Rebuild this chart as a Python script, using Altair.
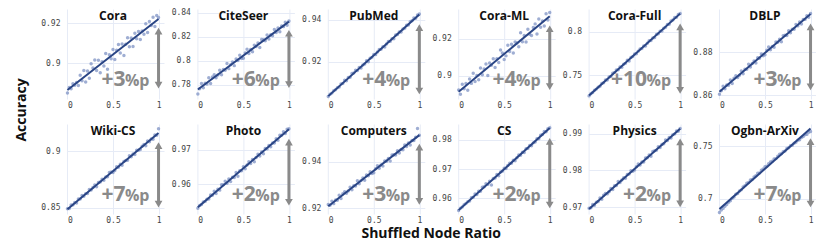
import altair as alt
import pandas as pd
import numpy as np

X = [0.0, 0.02, 0.04, 0.06, 0.08, 0.1, 0.12, 0.14, 0.16, 0.18, 0.2, 0.22, 0.24, 0.26, 0.28,
     0.3, 0.32, 0.34, 0.36, 0.38, 0.4, 0.42, 0.44, 0.46, 0.48, 0.5, 0.52, 0.54, 0.56, 0.58,
     0.6, 0.62, 0.64, 0.66, 0.68, 0.7, 0.72, 0.74, 0.76, 0.78, 0.8, 0.82, 0.84, 0.86, 0.88,
     0.9, 0.92, 0.94, 0.96, 0.98, 1.0]

NAMES = ["Cora", "CiteSeer", "PubMed", "Cora-ML", "Cora-Full", "DBLP",
         "Wiki-CS", "Photo", "Computers", "CS", "Physics", "Ogbn-ArXiv"]
GAINS = ["+3", "+6", "+4", "+4", "+10", "+3", "+7", "+2", "+3", "+2", "+2", "+7"]
DOMAINS = [[0.882, 0.927], [0.7683, 0.8433], [0.9024, 0.9452], [0.8876, 0.936],
           [0.7227, 0.8265], [0.8583, 0.8999], [0.8447, 0.9237], [0.9512, 0.9776],
           [0.9174, 0.9565], [0.9545, 0.9855], [0.9681, 0.9927], [0.6858, 0.7708]]
TICKS = [[0.9, 0.92], [0.78, 0.8, 0.82, 0.84], [0.92, 0.94], [0.9, 0.92],
         [0.75, 0.8], [0.86, 0.88], [0.85, 0.9], [0.96, 0.97],
         [0.92, 0.94], [0.96, 0.97, 0.98], [0.97, 0.98, 0.99], [0.7, 0.75]]
X_TICKS = [0, 0.5, 1]

Y_CORA = [0.8850, 0.8877, 0.8871, 0.8896, 0.8889, 0.8902, 0.8887, 0.8939, 0.8911, 0.8963, 0.8905, 0.8960, 0.8924, 0.8996, 0.8975, 0.9015, 0.8962, 0.9014, 0.8951, 0.9006, 0.8985, 0.9047, 0.8969, 0.9041, 0.9021, 0.9068, 0.9017, 0.9064, 0.9093, 0.9050, 0.9095, 0.9037, 0.9094, 0.9126, 0.9081, 0.9125, 0.9082, 0.9149, 0.9121, 0.9158, 0.9117, 0.9160, 0.9144, 0.9196, 0.9153, 0.9208, 0.9187, 0.9229, 0.9183, 0.9238, 0.9228]
Y_CITESEER = [0.7725, 0.7768, 0.7813, 0.7776, 0.7815, 0.7807, 0.7860, 0.7813, 0.7866, 0.7885, 0.7860, 0.7883, 0.7922, 0.7885, 0.7930, 0.7922, 0.7978, 0.7936, 0.7969, 0.7992, 0.7961, 0.8017, 0.8003, 0.8048, 0.8020, 0.8023, 0.8067, 0.8098, 0.8062, 0.8095, 0.8076, 0.8132, 0.8121, 0.8149, 0.8112, 0.8179, 0.8177, 0.8168, 0.8216, 0.8182, 0.8219, 0.8210, 0.8263, 0.8238, 0.8275, 0.8244, 0.8291, 0.8286, 0.8322, 0.8297, 0.8333]
Y_PUBMED = [0.9036, 0.9047, 0.9052, 0.9063, 0.9068, 0.9077, 0.9081, 0.9096, 0.9098, 0.9113, 0.9111, 0.9126, 0.9127, 0.9145, 0.9148, 0.9161, 0.9160, 0.9174, 0.9171, 0.9186, 0.9190, 0.9206, 0.9201, 0.9218, 0.9222, 0.9236, 0.9235, 0.9248, 0.9260, 0.9260, 0.9273, 0.9271, 0.9286, 0.9298, 0.9298, 0.9311, 0.9311, 0.9328, 0.9331, 0.9343, 0.9343, 0.9357, 0.9361, 0.9375, 0.9376, 0.9392, 0.9396, 0.9409, 0.9408, 0.9423, 0.9428]
Y_CORAML = [0.8925, 0.8901, 0.8955, 0.8931, 0.8960, 0.8923, 0.8984, 0.8960, 0.9014, 0.8970, 0.9002, 0.8979, 0.9043, 0.9006, 0.9038, 0.9064, 0.9002, 0.9070, 0.9057, 0.9093, 0.9045, 0.9092, 0.9072, 0.9139, 0.9123, 0.9089, 0.9108, 0.9165, 0.9131, 0.9170, 0.9123, 0.9183, 0.9177, 0.9157, 0.9232, 0.9184, 0.9217, 0.9183, 0.9251, 0.9224, 0.9218, 0.9261, 0.9280, 0.9225, 0.9306, 0.9262, 0.9295, 0.9268, 0.9335, 0.9301, 0.9341]
Y_CORAFULL = [0.7263, 0.7287, 0.7302, 0.7327, 0.7341, 0.7362, 0.7374, 0.7406, 0.7415, 0.7447, 0.7446, 0.7480, 0.7486, 0.7524, 0.7534, 0.7563, 0.7564, 0.7596, 0.7594, 0.7627, 0.7638, 0.7673, 0.7666, 0.7705, 0.7716, 0.7746, 0.7748, 0.7779, 0.7804, 0.7808, 0.7838, 0.7838, 0.7871, 0.7898, 0.7901, 0.7931, 0.7935, 0.7972, 0.7980, 0.8008, 0.8012, 0.8042, 0.8054, 0.8086, 0.8090, 0.8126, 0.8137, 0.8166, 0.8169, 0.8201, 0.8214]
Y_DBLP = [0.8605, 0.8621, 0.8642, 0.8630, 0.8648, 0.8647, 0.8671, 0.8655, 0.8679, 0.8690, 0.8682, 0.8693, 0.8712, 0.8700, 0.8721, 0.8720, 0.8744, 0.8731, 0.8747, 0.8759, 0.8749, 0.8774, 0.8771, 0.8791, 0.8783, 0.8787, 0.8808, 0.8823, 0.8811, 0.8826, 0.8822, 0.8847, 0.8845, 0.8859, 0.8848, 0.8876, 0.8878, 0.8877, 0.8899, 0.8889, 0.8906, 0.8905, 0.8928, 0.8921, 0.8939, 0.8930, 0.8951, 0.8951, 0.8968, 0.8961, 0.8978]
Y_WIKICS = [0.8494, 0.8495, 0.8526, 0.8527, 0.8549, 0.8544, 0.8578, 0.8579, 0.8610, 0.8603, 0.8626, 0.8627, 0.8662, 0.8657, 0.8680, 0.8701, 0.8686, 0.8723, 0.8728, 0.8753, 0.8743, 0.8772, 0.8774, 0.8811, 0.8815, 0.8811, 0.8829, 0.8862, 0.8858, 0.8884, 0.8875, 0.8909, 0.8917, 0.8919, 0.8959, 0.8950, 0.8973, 0.8970, 0.9007, 0.9006, 0.9014, 0.9041, 0.9058, 0.9047, 0.9089, 0.9082, 0.9105, 0.9104, 0.9141, 0.9138, 0.9195]
Y_PHOTO = [0.9529, 0.9537, 0.9540, 0.9547, 0.9549, 0.9555, 0.9556, 0.9568, 0.9567, 0.9579, 0.9572, 0.9585, 0.9582, 0.9598, 0.9598, 0.9608, 0.9602, 0.9615, 0.9607, 0.9620, 0.9619, 0.9634, 0.9623, 0.9639, 0.9639, 0.9651, 0.9645, 0.9656, 0.9665, 0.9660, 0.9672, 0.9665, 0.9678, 0.9687, 0.9682, 0.9694, 0.9689, 0.9704, 0.9703, 0.9713, 0.9709, 0.9720, 0.9720, 0.9733, 0.9728, 0.9743, 0.9743, 0.9753, 0.9748, 0.9761, 0.9762]
Y_COMPUTERS = [0.9215, 0.9212, 0.9230, 0.9219, 0.9235, 0.9234, 0.9255, 0.9241, 0.9262, 0.9271, 0.9264, 0.9274, 0.9290, 0.9279, 0.9297, 0.9296, 0.9318, 0.9305, 0.9319, 0.9330, 0.9321, 0.9343, 0.9340, 0.9358, 0.9350, 0.9353, 0.9371, 0.9384, 0.9373, 0.9387, 0.9382, 0.9404, 0.9403, 0.9415, 0.9404, 0.9430, 0.9431, 0.9430, 0.9449, 0.9439, 0.9454, 0.9453, 0.9474, 0.9467, 0.9483, 0.9474, 0.9493, 0.9493, 0.9508, 0.9545, 0.9516]
Y_CS = [0.9557, 0.9565, 0.9569, 0.9577, 0.9581, 0.9587, 0.9590, 0.9601, 0.9603, 0.9614, 0.9612, 0.9623, 0.9623, 0.9637, 0.9639, 0.9649, 0.9647, 0.9658, 0.9645, 0.9667, 0.9669, 0.9681, 0.9677, 0.9690, 0.9692, 0.9703, 0.9702, 0.9712, 0.9720, 0.9720, 0.9730, 0.9728, 0.9739, 0.9748, 0.9747, 0.9758, 0.9757, 0.9770, 0.9771, 0.9781, 0.9780, 0.9790, 0.9793, 0.9804, 0.9804, 0.9816, 0.9819, 0.9829, 0.9828, 0.9839, 0.9842]
Y_PHYSICS = [0.9697, 0.9698, 0.9707, 0.9705, 0.9713, 0.9715, 0.9725, 0.9721, 0.9732, 0.9737, 0.9736, 0.9742, 0.9751, 0.9748, 0.9758, 0.9759, 0.9770, 0.9767, 0.9774, 0.9780, 0.9779, 0.9789, 0.9790, 0.9799, 0.9798, 0.9801, 0.9810, 0.9818, 0.9815, 0.9823, 0.9823, 0.9834, 0.9835, 0.9842, 0.9839, 0.9852, 0.9854, 0.9855, 0.9865, 0.9863, 0.9871, 0.9873, 0.9883, 0.9882, 0.9890, 0.9889, 0.9898, 0.9900, 0.9908, 0.9907, 0.9915]
Y_OGBN = [0.6873, 0.6895, 0.6911, 0.6932, 0.6948, 0.6968, 0.6982, 0.7007, 0.7019, 0.7044, 0.7051, 0.7076, 0.7086, 0.7114, 0.7126, 0.7148, 0.7155, 0.7179, 0.7184, 0.7208, 0.7219, 0.7244, 0.7246, 0.7272, 0.7283, 0.7304, 0.7310, 0.7332, 0.7350, 0.7357, 0.7377, 0.7381, 0.7404, 0.7422, 0.7427, 0.7447, 0.7453, 0.7476, 0.7484, 0.7502, 0.7507, 0.7526, 0.7535, 0.7555, 0.7560, 0.7581, 0.7589, 0.7607, 0.7610, 0.7629, 0.7638]

SERIES = [Y_CORA, Y_CITESEER, Y_PUBMED, Y_CORAML, Y_CORAFULL, Y_DBLP,
          Y_WIKICS, Y_PHOTO, Y_COMPUTERS, Y_CS, Y_PHYSICS, Y_OGBN]

W, H = 97, 90
PT_COLOR = "#7f93c4"
LINE_COLOR = "#2a4585"
GREY = "#8a8a8a"
GRID = "#e6ebf6"
SANS = "Open Sans"
MONO = "DejaVu Sans Mono"


def panel(i):
    df = pd.DataFrame({"x": X, "y": SERIES[i]})
    lo, hi = DOMAINS[i]
    xs = alt.Scale(domain=[-0.005, 1.06], nice=False, zero=False)
    ys = alt.Scale(domain=[lo, hi], nice=False, zero=False)
    xax = alt.Axis(values=X_TICKS, format="~g", grid=True, gridColor=GRID, ticks=False,
                   domain=False, labelFont=MONO, labelFontSize=8, labelColor="#444",
                   labelPadding=2, title=None)
    yax = alt.Axis(values=TICKS[i], format="~g", grid=True, gridColor=GRID, ticks=False,
                   domain=False, labelFont=MONO, labelFontSize=8, labelColor="#444",
                   labelPadding=7, title=None)

    def ex(field="x"):
        return alt.X(f"{field}:Q", scale=xs, axis=xax)

    def ey(field="y"):
        return alt.Y(f"{field}:Q", scale=ys, axis=yax)

    base = alt.Chart(df)
    pts = base.mark_circle(size=12, color=PT_COLOR, opacity=0.75).encode(x=ex(), y=ey())
    fit = base.transform_regression("x", "y").mark_line(
        color=LINE_COLOR, strokeWidth=2).encode(x=ex(), y=ey())

    slope, icpt = np.polyfit(np.array(X), np.array(SERIES[i]), 1)
    s, e = icpt, icpt + slope
    rng = e - s
    px = (hi - lo) / H
    top_c = e - 0.12 * rng - 3.5 * px
    bot_c = s + 0.02 * rng + 3.5 * px
    adf = pd.DataFrame({"x": [1.0], "y": [bot_c], "y2": [top_c]})
    rule = alt.Chart(adf).mark_rule(color=GREY, strokeWidth=3).encode(
        x=ex(), y=ey(), y2="y2:Q")
    hdf = pd.DataFrame({"x": [1.0, 1.0], "y": [top_c, bot_c],
                        "shape": ["triangle-up", "triangle-down"]})
    heads = alt.Chart(hdf).mark_point(filled=True, color=GREY, opacity=1, size=60,
                                      strokeWidth=0).encode(
        x=ex(), y=ey(), shape=alt.Shape("shape:N", scale=None, legend=None))

    tdf = pd.DataFrame({"x": [0.9]})
    pct = alt.Chart(tdf).mark_text(text="%p", font=SANS, fontWeight="bold", fontSize=16,
                                   color=GREY, align="right", baseline="alphabetic").encode(
        x=ex(), y=alt.value(77))
    gain = alt.Chart(tdf).mark_text(text=GAINS[i], font=SANS, fontWeight="bold", fontSize=21,
                                    color=GREY, align="right", baseline="alphabetic",
                                    dx=-24).encode(x=ex(), y=alt.value(77))
    ttl = alt.Chart(pd.DataFrame({"x": [0.5]})).mark_text(
        text=NAMES[i], font=SANS, fontWeight="bold", fontSize=12, color="#111",
        align="center", baseline="middle").encode(x=ex(), y=alt.value(7))

    layers = [pts, fit, rule, heads, pct, gain, ttl]
    if i == 0:
        layers.append(alt.Chart(pd.DataFrame({"a": [0]})).mark_text(
            text="Accuracy", font=SANS, fontWeight="bold", fontSize=14, color="#111",
            angle=270, align="center", baseline="middle").encode(
            x=alt.value(-45), y=alt.value(101)))
    if i == 9:
        layers.append(alt.Chart(pd.DataFrame({"a": [0]})).mark_text(
            text="Shuffled Node Ratio", font=SANS, fontWeight="bold", fontSize=14,
            color="#111", align="center", baseline="middle").encode(
            x=alt.value(-27), y=alt.value(110)))
    return alt.layer(*layers).properties(width=W, height=H)


chart = alt.concat(*[panel(i) for i in range(12)], columns=6,
                   spacing={"row": 25, "column": 33.4}, bounds="flush").properties(
    padding={"left": 7, "top": 0, "right": 0, "bottom": 0},
    background="white",
).configure_view(stroke=None)

chart.save("out.html", embed_options={"renderer": "svg", "actions": False})
